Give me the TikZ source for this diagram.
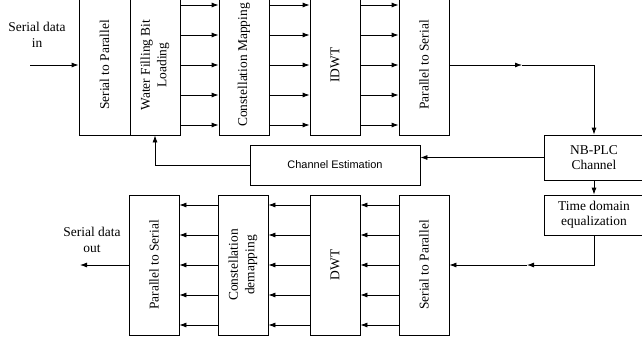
\documentclass[tikz,border=0pt]{standalone}
\usepackage{fontspec}
\setmainfont{Liberation Serif}
\newfontfamily\arialfont{Liberation Sans}
\usetikzlibrary{arrows.meta,calc}
\tikzset{
  arr/.style={-{Latex[length=7bp,width=5bp]}},
  blk/.style={draw,inner sep=0pt,minimum width=50bp,minimum height=140bp},
  rlab/.style={rotate=90,align=center,font=\fontsize{13.5}{16.5}\selectfont},
  txt/.style={align=center,font=\fontsize{13.5}{15.5}\selectfont},
}
\begin{document}
\begin{tikzpicture}[x=1bp,y=-1bp,line width=0.8bp]
\useasboundingbox (0,0) rectangle (642,339);
\clip (0,0) rectangle (642,339);
% top row
\node[blk,minimum width=51bp] (ts2p) at (104.5,65) {};
\node[rlab] (ts2pl) at (ts2p.center) {Serial to Parallel};
\node[blk] (wf) at (155,65) {};
\node[rlab] (wfl) at (wf.center) {Water Filling Bit\\Loading};
\node[blk] (cm) at (244,65) {};
\node[rlab] (cml) at (cm.center) {Constellation Mapping};
\node[blk] (idwt) at (335,65) {};
\node[rlab] (idwtl) at (idwt.center) {IDWT};
\node[blk] (tp2s) at (424,65) {};
\node[rlab] (tp2sl) at (tp2s.center) {Parallel to Serial};
% bottom row
\node[blk] (bp2s) at (154,265) {};
\node[rlab] (bp2sl) at (bp2s.center) {Parallel to Serial};
\node[blk] (cdm) at (243,265) {};
\node[rlab] (cdml) at (cdm.center) {Constellation\\demapping};
\node[blk] (dwt) at (335,265) {};
\node[rlab] (dwtl) at (dwt.center) {DWT};
\node[blk] (bs2p) at (424,265) {};
\node[rlab] (bs2pl) at (bs2p.center) {Serial to Parallel};
% right side
\node[draw,txt,minimum width=100bp,minimum height=45bp,inner sep=0pt] (nb) at (594,157.5) {NB-PLC\\Channel};
\node[draw,txt,minimum width=100bp,minimum height=40bp,inner sep=0pt] (td) at (594,215) {Time domain\\equalization};
\node[draw,minimum width=170bp,minimum height=40bp,inner sep=0pt,font=\arialfont\fontsize{11}{13}\selectfont] (ce) at (335,165) {Channel Estimation};
% labels
\node[txt] (sin) at (37,35) {Serial data\\in};
\node[txt] (sout) at (92,240) {Serial data\\out};
\coordinate (in) at (30,65);
\coordinate (out) at (80,265);
\coordinate (m1) at (522,65);
\coordinate (m2) at (527,265);
% connectors
\draw[arr] (in) -- (ts2p.west);
\foreach \d in {-60,-30,0,30,60}{
  \draw[arr] ([yshift=\d bp]wf.east) -- ([yshift=\d bp]cm.west);
  \draw[arr] ([yshift=\d bp]cm.east) -- ([yshift=\d bp]idwt.west);
  \draw[arr] ([yshift=\d bp]idwt.east) -- ([yshift=\d bp]tp2s.west);
  \draw[arr] ([yshift=\d bp]bs2p.west) -- ([yshift=\d bp]dwt.east);
  \draw[arr] ([yshift=\d bp]dwt.west) -- ([yshift=\d bp]cdm.east);
  \draw[arr] ([yshift=\d bp]cdm.west) -- ([yshift=\d bp]bp2s.east);
}
\draw[arr] (tp2s.east) -- (m1);
\draw[arr] (m1) -| (nb.north);
\draw[arr] (nb.west) -- (nb.west -| ce.east);
\draw[arr] (ce.west) -| (wf.south);
\draw[arr] (nb.south) -- (td.north);
\draw[arr] (td.south) |- (m2);
\draw[arr] (m2) -- (bs2p.east);
\draw[arr] (bp2s.west) -- (out);
\end{tikzpicture}
\end{document}
